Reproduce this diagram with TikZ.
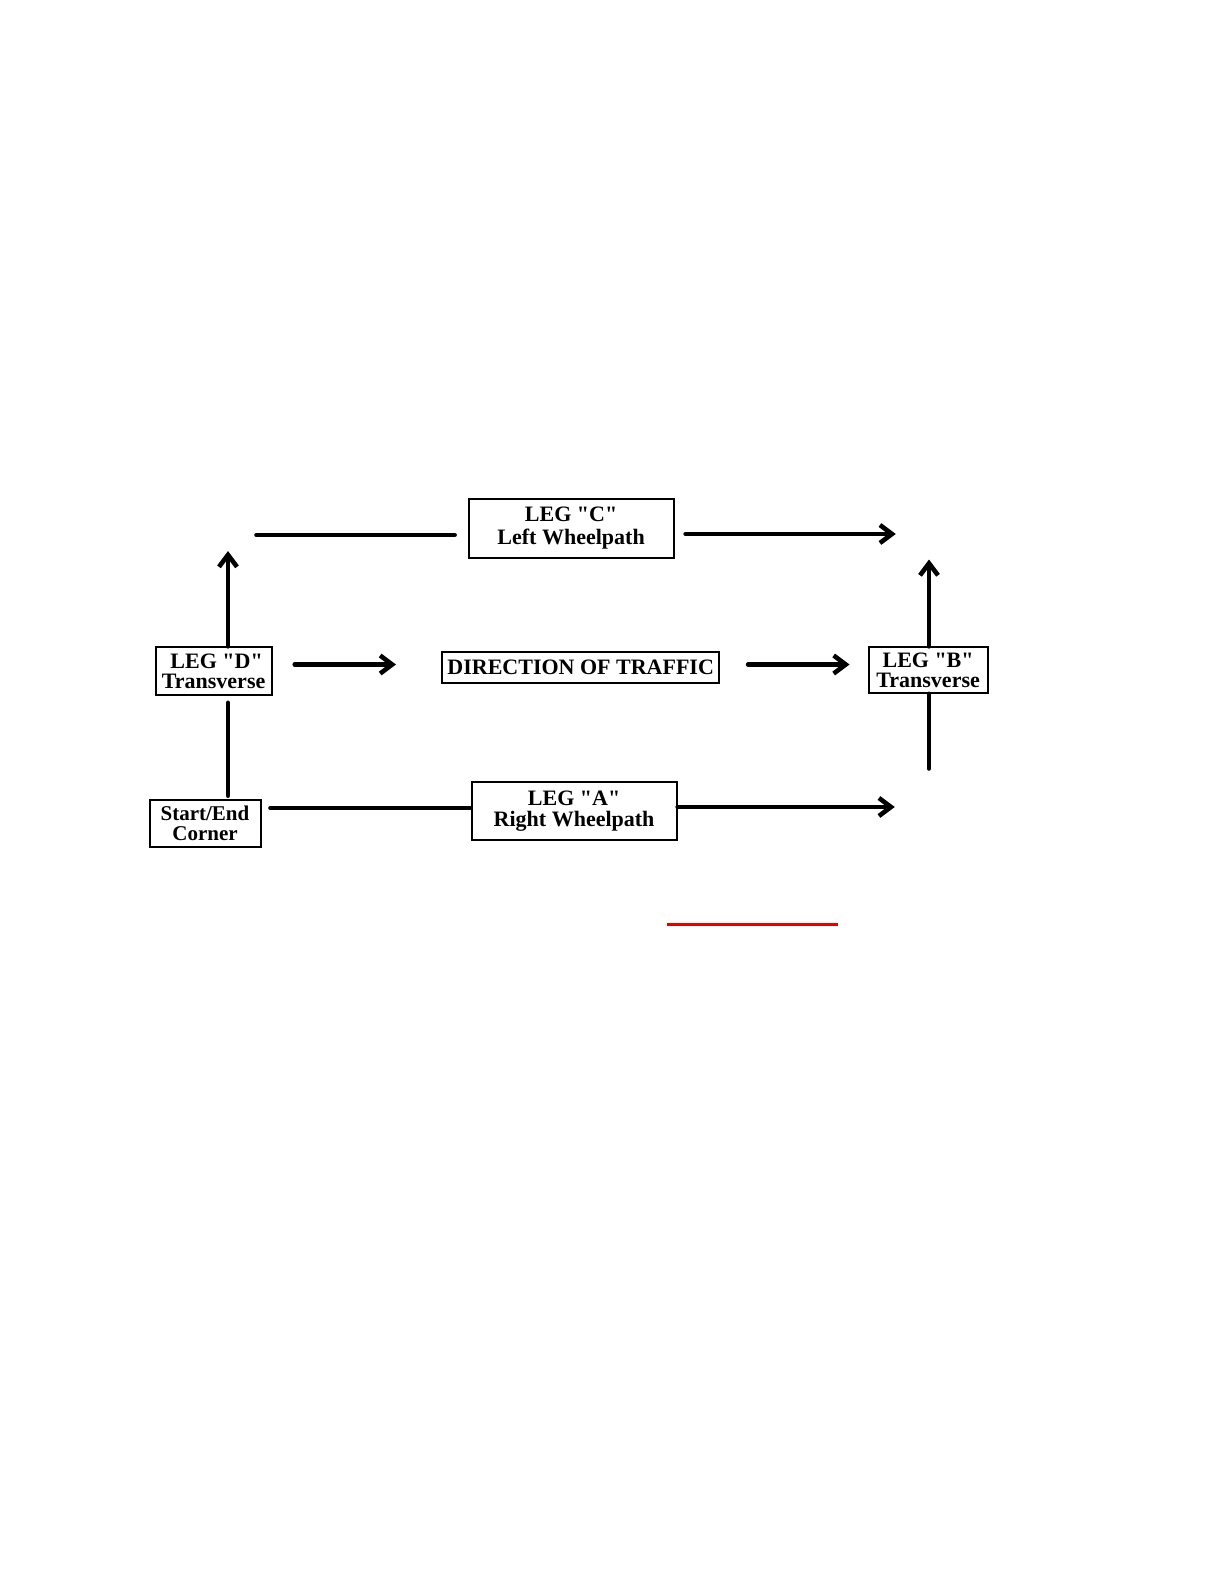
\documentclass[tikz,border=0pt]{standalone}
\usepackage{fontspec}
\newfontfamily\legfont{Liberation Serif}
\usetikzlibrary{arrows.meta}
\begin{document}
\begin{tikzpicture}[x=0.5pt,y=-0.5pt,
  box/.style={draw,line width=1pt,inner sep=0pt,align=center,font=\legfont\bfseries\fontsize{11}{11}\selectfont},
  conn/.style={line width=2.3pt,line cap=round},
  arr/.style={conn,-{Straight Barb[length=6pt,width=9pt,line width=2.3pt]}}]
\useasboundingbox[fill=white] (0,0) rectangle (1224,1584);
% boxes
\node[box,minimum width=102.5pt,minimum height=29.3pt] (C) at (571.1,528.2) {LEG "C"\\[0.6pt]Left Wheelpath};
\node[box,minimum width=58.1pt,minimum height=23.7pt] (D) at (213.6,671.1) {\hspace*{3pt}LEG "D"\\[-1pt]Transverse};
\node[box,minimum width=138.4pt,minimum height=15.2pt] (T) at (580.7,667.6) {DIRECTION OF TRAFFIC};
\node[box,minimum width=59.6pt,minimum height=22.7pt] (B) at (928.1,670.1) {LEG "B"\\[-1pt]Transverse};
\node[box,minimum width=55.5pt,minimum height=23.8pt,font=\legfont\bfseries\fontsize{10.5}{10}\selectfont] (S) at (205,823.5) {Start/End\\Corner};
\node[box,minimum width=102.5pt,minimum height=29.3pt] (A) at (574.1,811) {LEG "A"\\[-0.5pt]Right Wheelpath};
% free ends
\coordinate (cL) at (256.5,535);
\coordinate (cR) at (895.8,534);
\coordinate (dUp) at (228,551);
\coordinate (dR) at (396,664.5);
\coordinate (bUp) at (929,559.5);
\coordinate (bDn) at (929,768.5);
\coordinate (aR) at (894.8,807);
\coordinate (aY) at (260,808);
\coordinate (r1) at (666.5,924);
\coordinate (r2) at (838.2,924);
% connectors
\draw[conn] (cL) -- (cL -| C.west) [shorten >=6.5pt];
\draw[arr,shorten <=5.5pt] (C.east |- cR) -- (cR);
\draw[arr] (D.north -| dUp) -- (dUp);
\draw[arr,shorten <=11pt] (D.east |- dR) -- (dR);
\draw[arr,shorten <=14pt,shorten >=9pt] (T.east |- dR) -- (B.west |- dR);
\draw[arr] (B.north -| bUp) -- (bUp);
\draw[conn] (B.south -| bDn) -- (bDn);
\draw[conn,shorten <=3.5pt,shorten >=1.5pt] (D.south -| dUp) -- (S.north -| dUp);
\draw[conn,shorten <=4.5pt] (S.east |- aY) -- (A.west |- aY);
\draw[arr] (A.east |- aR) -- (aR);
\draw[red!90!black,line width=1.5pt] (r1) -- (r2);
\end{tikzpicture}
\end{document}
